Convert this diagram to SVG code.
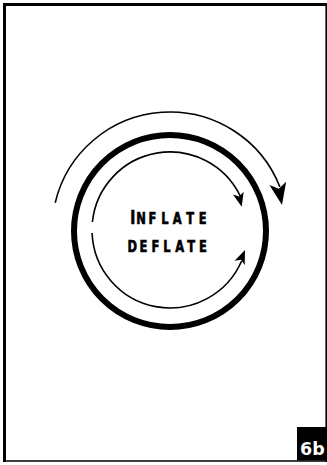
<svg xmlns="http://www.w3.org/2000/svg" xmlns:xlink="http://www.w3.org/1999/xlink" width="327" height="465" viewBox="0 0 327 465">
  <style>
    .frame { stroke: #000; fill: none; }
    .ring { fill: none; stroke: #000; }
    .thin { stroke-width: 1.6; }
    .thick { stroke-width: 6; }
    .head { fill: #000; stroke: none; }
    .lbl { font-family: "Liberation Sans Narrow", "DejaVu Sans Condensed", "Liberation Sans", sans-serif; font-weight: bold; fill: #000; stroke: #000; stroke-width: 0.6; font-size: 16px; }
    .tag { font-family: "DejaVu Sans", "Liberation Sans", sans-serif; font-weight: bold; fill: #fff; font-size: 17.5px; }
  </style>
  <defs>
    <path id="ahBig" d="M0,0 L-22,-8.5 L-16.5,0 L-22,8.5 Z"/>
    <path id="ahSmall" d="M0,0 L-14,-5.5 L-10.5,0 L-14,5.5 Z"/>
  </defs>
  <rect width="327" height="465" fill="#fff"/>
  <g id="frame">
    <line class="frame" x1="3" y1="4.5" x2="327" y2="4.5" stroke-width="3"/>
    <line class="frame" x1="4.5" y1="3" x2="4.5" y2="462" stroke-width="3"/>
    <line class="frame" x1="326.2" y1="3" x2="326.2" y2="462" stroke-width="1.6"/>
    <line class="frame" x1="3" y1="461" x2="327" y2="461" stroke-width="1.4" stroke="#444"/>
  </g>
  <g id="ring">
    <circle class="ring thick" cx="170" cy="231" r="96"/>
  </g>
  <g id="connectors">
    <path class="ring thin" d="M55.2,202.7 A118,118 0 0 1 279.9,187"/>
    <use href="#ahBig" class="head" transform="translate(282,205) rotate(79)"/>
    <path class="ring thin" d="M92.4,222 A78,78 0 0 1 240.2,196"/>
    <use href="#ahSmall" class="head" transform="translate(241.7,206.7) rotate(76)"/>
    <path class="ring thin" d="M92.1,233 A78,78 0 0 0 241.6,261"/>
    <use href="#ahSmall" class="head" transform="translate(245,250) rotate(-67.5)"/>
  </g>
  <g id="label" transform="scale(0.8,1)">
    <text class="lbl" y="224.3"><tspan x="162.9" font-size="19">I</tspan><tspan x="170.2">N</tspan><tspan x="185.7">F</tspan><tspan x="201.5">L</tspan><tspan x="216">A</tspan><tspan x="232.7">T</tspan><tspan x="248.5">E</tspan></text>
    <text class="lbl" y="252"><tspan x="159.5">D</tspan><tspan x="174.4">E</tspan><tspan x="189.4">F</tspan><tspan x="204.2">L</tspan><tspan x="219">A</tspan><tspan x="234">T</tspan><tspan x="248.7">E</tspan></text>
  </g>
  <g id="tag">
    <rect x="297" y="427" width="30" height="33.5" fill="#000"/>
    <text class="tag" x="300" y="454.5">6b</text>
  </g>
</svg>
